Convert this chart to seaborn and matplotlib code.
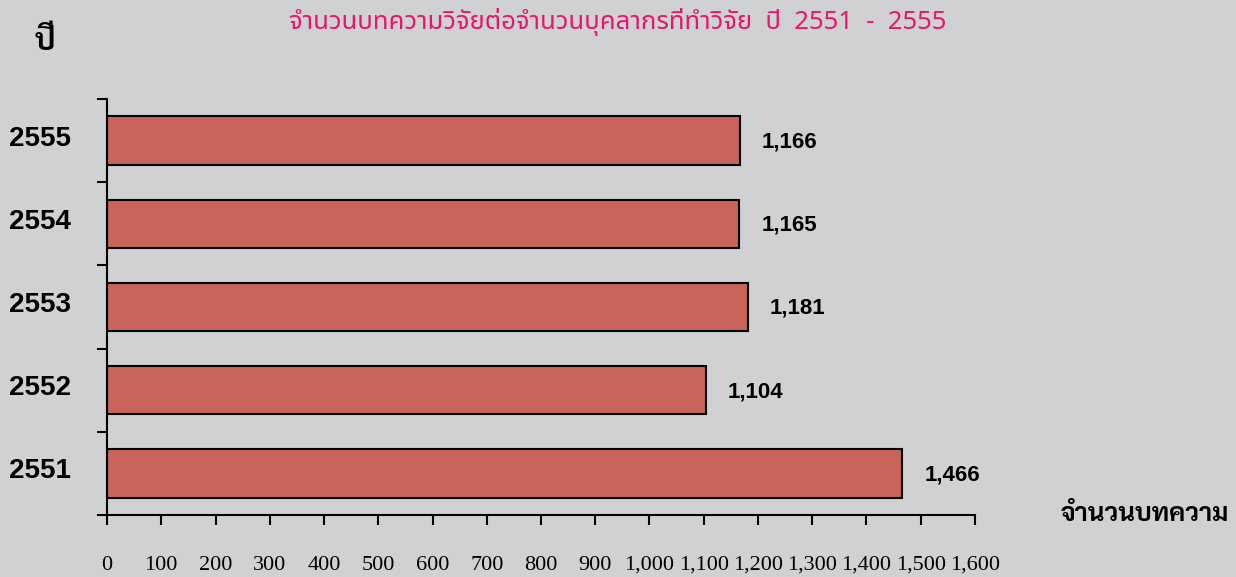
import matplotlib
matplotlib.use("Agg")
import matplotlib.pyplot as plt
from matplotlib.transforms import ScaledTranslation
import seaborn as sns
import pandas as pd

# data
years = ["2555", "2554", "2553", "2552", "2551"]
papers = [1166, 1165, 1181, 1104, 1466]
xticks = list(range(0, 1700, 100))

title = "จำนวนบทความวิจัยต่อจำนวนบุคลากรที่ทำวิจัย  ปี  2551  -  2555"
ylabel = "ปี"
xlabel = "จำนวนบทความ"

df = pd.DataFrame({"year": years, "papers": papers})

bg = "#D0D1D3"
sns.set_style("ticks")
plt.rcParams["font.family"] = ["Liberation Sans", "DejaVu Sans"]
plt.rcParams["text.color"] = "black"
plt.rcParams["xtick.color"] = "black"
plt.rcParams["ytick.color"] = "black"

fig = plt.figure(figsize=(12.36, 5.77), dpi=100, facecolor=bg)
ax = fig.add_axes([0.0866, 0.1075, 0.7022, 0.7209], facecolor=bg)

sns.barplot(data=df, x="papers", y="year", orient="h", color="#C8645A",
            saturation=1, edgecolor="black", linewidth=1.5, width=0.58, ax=ax)

ax.set_xlim(0, 1600)
ax.set_ylim(len(years) - 0.5, -0.5)

# value labels
for i, v in enumerate(papers):
    ax.annotate(f"{v:,}", xy=(v, i), xytext=(16, -1), textcoords="offset points",
                ha="left", va="center", fontsize=16, fontweight="bold", color="black")

# x ticks
ax.set_xticks(xticks)
ax.set_xticklabels([f"{t:,}" for t in xticks], family="Liberation Serif", fontsize=16)
ax.tick_params(axis="x", direction="out", length=7.5, width=1.5, pad=22, colors="black")

# y ticks on band boundaries, labels in the middle
ax.set_yticks([i - 0.5 for i in range(len(years) + 1)])
ax.set_yticklabels([])
ax.set_yticks(range(len(years)), minor=True)
ax.set_yticklabels(years, minor=True, fontsize=20, fontweight="bold", color="black")
ax.tick_params(axis="y", which="major", direction="out", length=7.5, width=1.5, colors="black")
ax.tick_params(axis="y", which="minor", length=0, pad=26)
shift = ScaledTranslation(0, 5 / 100, fig.dpi_scale_trans)
for lab in ax.get_yticklabels(minor=True):
    lab.set_transform(lab.get_transform() + shift)

ax.set_xlabel("")
ax.set_ylabel("")
sns.despine(ax=ax)
for s in ["left", "bottom"]:
    ax.spines[s].set_linewidth(1.5)
    ax.spines[s].set_color("black")

fig.text(0.4995, 1 - 22 / 577, title, ha="center", va="center", color="#E8146E",
         fontsize=18.5, family="Noto Sans Thai")
fig.text(0.028, 1 - 42 / 577, ylabel, ha="left", va="center", fontsize=22,
         fontweight="bold", family="Sarabun")
fig.text(0.858, 1 - 515 / 577, xlabel, ha="left", va="center", fontsize=18.5,
         fontweight="bold", family="Sarabun")

fig.savefig("out.png", facecolor=bg)
